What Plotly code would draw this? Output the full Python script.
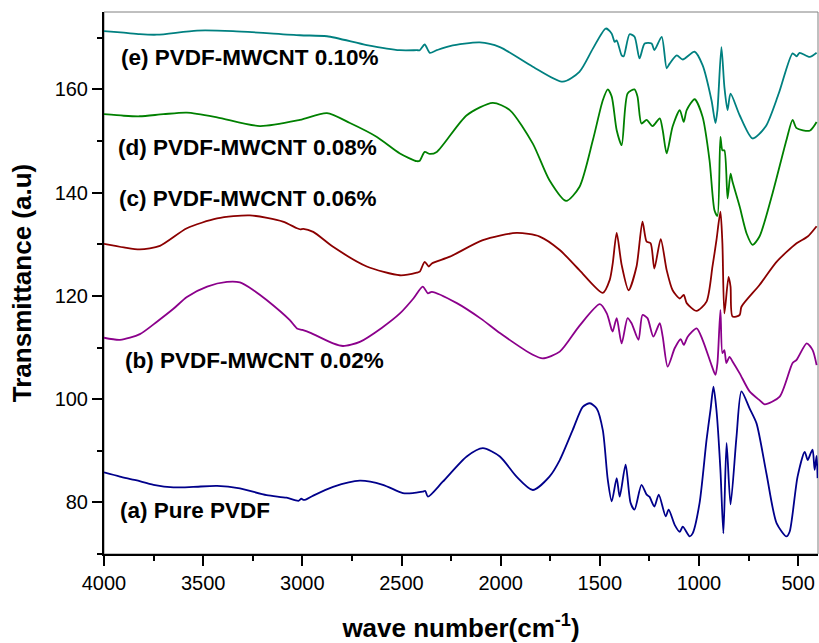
import plotly.graph_objects as go

# FTIR spectra: wave number (cm-1) and offset transmittance (a.u.)
wn_a = [4000, 3920, 3840, 3750, 3650, 3550, 3430, 3315, 3180, 3080, 3020, 3005, 2995, 2980,
        2945, 2845, 2710, 2594, 2493, 2443, 2393, 2380, 2367, 2292, 2171, 2090, 2004, 1920,
        1838, 1754, 1702, 1637, 1586, 1550, 1516, 1485, 1460, 1440, 1415, 1400, 1370, 1345,
        1325, 1290, 1264, 1250, 1225, 1203, 1168, 1153, 1122, 1097, 1082, 1047, 1032, 997,
        962, 942, 927, 912, 892, 877, 861, 841, 811, 786, 745, 710, 660, 609, 559, 543, 503,
        467, 452, 437, 427, 417, 407, 402]
t_a = [85.8, 85.0, 84.3, 83.4, 82.9, 83.0, 83.2, 82.7, 81.4, 80.9, 80.3, 80.7, 80.5, 80.6,
       81.3, 83.0, 84.2, 83.4, 81.8, 81.8, 82.1, 82.2, 81.1, 84.0, 88.9, 90.5, 88.9, 85.0,
       82.4, 85.0, 88.2, 94.0, 98.5, 99.2, 98.2, 94.0, 84.4, 80.2, 84.7, 81.1, 87.3, 79.9,
       78.6, 83.4, 81.5, 81.1, 79.2, 81.5, 77.3, 78.6, 75.6, 74.3, 75.3, 73.4, 74.0, 79.9,
       92.1, 97.9, 102.4, 97.9, 86.3, 74.0, 91.5, 79.6, 92.7, 101.5, 98.2, 95.3, 85.6, 76.0,
       73.4, 74.3, 85.0, 89.8, 88.2, 89.5, 90.2, 86.3, 89.0, 84.7]

wn_b = [4000, 3919, 3819, 3733, 3650, 3582, 3480, 3380, 3315, 3250, 3180, 3063, 3027, 3000,
        2962, 2845, 2795, 2710, 2600, 2508, 2440, 2393, 2367, 2347, 2221, 2100, 2004, 1838,
        1788, 1702, 1603, 1500, 1465, 1440, 1435, 1415, 1390, 1360, 1340, 1305, 1285, 1260,
        1230, 1198, 1183, 1158, 1122, 1092, 1077, 1057, 1012, 982, 937, 917, 907, 892, 882,
        872, 862, 846, 831, 795, 745, 695, 669, 593, 528, 508, 457, 427, 407]
t_b = [111.9, 111.5, 112.6, 115.0, 117.5, 119.8, 121.8, 122.7, 122.6, 121.2, 119.2, 115.3,
       113.7, 113.4, 112.9, 110.8, 110.3, 111.1, 113.8, 116.6, 119.5, 121.8, 120.5, 120.8,
       118.6, 115.6, 112.8, 108.6, 107.9, 109.2, 114.2, 118.4, 116.6, 113.4, 113.1, 115.7,
       110.8, 115.7, 114.7, 111.5, 116.3, 115.7, 112.1, 114.7, 112.1, 106.3, 109.9, 111.6,
       110.5, 112.1, 113.7, 111.5, 106.6, 104.7, 107.0, 117.3, 108.9, 109.5, 107.0, 108.2,
       107.3, 105.0, 101.5, 99.8, 99.0, 100.5, 107.0, 107.6, 110.8, 109.5, 106.6]

wn_c = [4000, 3900, 3819, 3718, 3582, 3430, 3264, 3098, 3027, 3010, 2995, 2945, 2845, 2675,
        2508, 2423, 2408, 2383, 2362, 2347, 2256, 2090, 1920, 1803, 1702, 1603, 1485, 1450,
        1435, 1415, 1390, 1355, 1315, 1285, 1264, 1244, 1225, 1193, 1163, 1133, 1097, 1077,
        1062, 1012, 962, 932, 912, 892, 882, 872, 851, 841, 831, 795, 786, 695, 609, 508,
        452, 407]
t_c = [130.1, 129.4, 129.0, 129.7, 133.1, 135.0, 135.6, 134.4, 133.1, 132.9, 133.0, 132.4,
       129.5, 125.7, 124.0, 124.5, 124.7, 126.6, 125.7, 126.3, 127.6, 130.8, 132.2, 131.5,
       128.9, 125.0, 120.6, 123.1, 126.3, 132.2, 126.0, 121.1, 125.7, 134.4, 130.5, 130.2,
       125.3, 131.0, 125.0, 121.1, 119.5, 120.2, 118.6, 117.1, 118.9, 125.7, 130.8, 136.3,
       130.2, 116.6, 123.7, 121.8, 116.0, 116.3, 117.9, 122.1, 126.6, 130.2, 131.5, 133.5]

wn_d = [4000, 3900, 3819, 3700, 3582, 3430, 3214, 3012, 2876, 2760, 2624, 2508, 2423, 2408,
        2383, 2357, 2322, 2171, 2040, 1954, 1838, 1754, 1670, 1603, 1535, 1485, 1460, 1440,
        1415, 1390, 1360, 1325, 1310, 1290, 1264, 1234, 1198, 1183, 1163, 1133, 1097, 1077,
        1062, 1022, 982, 947, 922, 907, 892, 882, 872, 856, 841, 831, 795, 760, 730, 695,
        629, 559, 528, 508, 442, 407]
t_d = [155.2, 154.9, 154.8, 155.2, 155.5, 154.6, 152.9, 154.1, 155.4, 153.5, 150.8, 147.6,
       146.1, 146.2, 147.9, 147.5, 147.9, 155.0, 157.4, 156.0, 149.5, 142.4, 138.4, 141.1,
       150.2, 157.9, 160.0, 158.6, 152.1, 149.2, 159.2, 160.0, 158.6, 153.4, 154.1, 152.9,
       154.4, 152.1, 147.6, 152.8, 156.0, 153.7, 156.0, 158.1, 154.7, 146.3, 136.6, 135.5,
       150.8, 148.2, 148.2, 138.9, 143.7, 142.1, 137.3, 132.1, 129.9, 131.5, 139.9, 150.2,
       154.1, 152.5, 152.0, 153.7]

wn_e = [4000, 3900, 3819, 3733, 3531, 3350, 3012, 2876, 2675, 2508, 2423, 2408, 2383, 2357,
        2322, 2256, 2105, 2004, 1838, 1687, 1603, 1535, 1470, 1440, 1425, 1415, 1390, 1380,
        1350, 1325, 1300, 1274, 1239, 1225, 1188, 1163, 1148, 1112, 1082, 1022, 982, 937,
        917, 907, 887, 872, 856, 841, 795, 730, 664, 598, 528, 508, 493, 442, 407]
t_e = [171.3, 171.0, 170.7, 170.6, 171.4, 171.3, 170.5, 170.3, 168.6, 167.6, 167.6, 167.6,
       168.7, 167.1, 167.6, 168.4, 169.1, 168.2, 164.4, 161.5, 163.4, 167.9, 171.8, 170.8,
       169.2, 169.5, 166.6, 166.4, 170.7, 170.2, 166.0, 168.9, 168.9, 167.6, 170.2, 164.1,
       165.0, 166.6, 165.8, 167.3, 164.7, 157.9, 153.5, 156.0, 168.2, 160.5, 156.0, 159.2,
       155.0, 150.5, 152.8, 159.2, 167.0, 166.4, 167.1, 166.3, 167.1]

labels = ["(a) Pure PVDF", "(b) PVDF-MWCNT 0.02%", "(c) PVDF-MWCNT 0.06%",
          "(d) PVDF-MWCNT 0.08%", "(e) PVDF-MWCNT 0.10%"]
label_y = [78.4, 107.4, 138.8, 148.8, 166.1]
label_x = [3928, 3905, 3932, 3938, 3925]

colors = ["#00008B", "#8B008B", "#8B0000", "#008000", "#008080"]
series = [(wn_a, t_a), (wn_b, t_b), (wn_c, t_c), (wn_d, t_d), (wn_e, t_e)]

FONT = "Liberation Sans, Arial, sans-serif"

fig = go.Figure()
for (wn, t), col, name in zip(series, colors, labels):
    fig.add_trace(go.Scatter(x=wn, y=t, mode="lines", name=name,
                             line=dict(color=col, width=1.8, shape="spline", smoothing=0.7),
                             showlegend=False))

for txt, xv, yv in zip(labels, label_x, label_y):
    fig.add_annotation(x=xv, y=yv, text=f"<b>{txt}</b>", showarrow=False,
                       xanchor="left", yanchor="middle",
                       font=dict(family=FONT, size=22.5, color="black"))

# thin grey frame on top/right
fig.add_shape(type="rect", xref="paper", yref="paper", x0=0, y0=0, x1=1, y1=1,
              line=dict(color="#808080", width=1), layer="below")

fig.update_layout(
    width=819, height=643,
    margin=dict(l=104, r=1, t=12, b=89),
    paper_bgcolor="white", plot_bgcolor="white",
    font=dict(family=FONT, color="black"),
)

fig.update_xaxes(
    range=[4000, 400], autorange=False,
    tickmode="linear", tick0=0, dtick=500,
    ticks="outside", ticklen=10, tickwidth=1.5, tickcolor="black",
    minor=dict(dtick=250, ticks="outside", ticklen=5, tickwidth=1.5, tickcolor="black"),
    showline=True, linecolor="black", linewidth=2,
    showgrid=False, zeroline=False,
    tickfont=dict(family=FONT, size=20, color="black"),
    title=dict(text="<b>wave number(cm<sup>-1</sup>)</b>",
               font=dict(family=FONT, size=26, color="black"), standoff=28),
)

fig.update_yaxes(
    range=[70, 175], autorange=False,
    tickmode="linear", tick0=0, dtick=20,
    ticks="outside", ticklen=10, tickwidth=1.5, tickcolor="black",
    minor=dict(dtick=10, ticks="outside", ticklen=5, tickwidth=1.5, tickcolor="black"),
    showline=True, linecolor="black", linewidth=2,
    showgrid=False, zeroline=False,
    tickfont=dict(family=FONT, size=20, color="black"),
    title=dict(text="<b>Transmittance (a.u)</b>",
               font=dict(family=FONT, size=26, color="black"), standoff=16),
)

fig.write_html("out.html")
